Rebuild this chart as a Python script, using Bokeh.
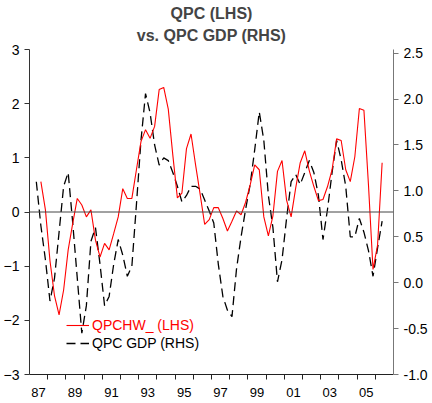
from bokeh.plotting import figure
from bokeh.models import (Range1d, LinearAxis, FixedTicker, CustomJSTickFormatter,
                          NumeralTickFormatter, Span, Legend, LegendItem, Title)
from bokeh.embed import file_html
from bokeh.resources import INLINE

# ---- data (quarterly) ----
qpchw_start = (1987, 3)   # first quarter of QPCHW_ series
qpchw = [0.56, 0.04, -0.9, -1.55, -1.9, -1.44, -0.70, -0.21, 0.25, 0.13,
         -0.09, 0.04, -0.52, -0.83, -0.58, -0.70, -0.40, -0.09, 0.43, 0.25,
         0.25, 0.78, 1.30, 1.52, 1.36, 1.58, 2.26, 2.30, 1.9, 1.05,
         0.26, 0.35, 1.17, 1.44, 0.87, 0.33, -0.23, -0.14, 0.08, 0.08,
         -0.12, -0.35, -0.17, 0.02, -0.05, 0.18, 0.5, 0.87, 0.78, -0.09,
         -0.44, -0.07, 0.75, 0.95, 0.22, -0.09, 0.44, 0.91, 1.13, 0.76,
         0.47, 0.21, 0.23, 0.47, 0.78, 1.35, 1.32, 0.78, 0.56, 1.02,
         1.91, 1.88, 0.5, -1.06, -0.61, 0.91]

gdp_start = (1987, 2)     # first quarter of QPC GDP series
qpc_gdp = [1.10, 0.62, 0.25, -0.2, 0.05, 0.55, 1.05, 1.2, 0.65, 0.05,
           -0.55, -0.25, 0.45, 0.6, 0.2, -0.25, -0.15, 0.2, 0.47, 0.3,
           0.07, 0.18, 0.85, 1.55, 2.06, 1.85, 1.5, 1.28, 1.36, 1.33,
           1.2, 1.05, 0.88, 0.95, 1.05, 1.05, 1.02, 0.9, 0.78, 0.65,
           0.2, -0.15, -0.3, -0.37, 0.15, 0.5, 0.8, 1.07, 1.45, 1.86,
           1.55, 0.95, 0.6, 0.01, 0.25, 0.7, 1.1, 1.18, 1.07, 1.2,
           1.33, 1.2, 0.95, 0.47, 0.8, 1.2, 1.55, 1.34, 1.05, 0.5,
           0.5, 0.7, 0.55, 0.35, 0.07, 0.38, 0.67]

year_ticks = list(range(1988, 2007))
label_years = list(range(1987, 2007, 2))
left_ticks = [-3, -2, -1, 0, 1, 2, 3]
right_ticks = [-1.0, -0.5, 0.0, 0.5, 1.0, 1.5, 2.0, 2.5]


def quarter_positions(start, n):
    yr, q = start
    return [yr + (q - 1 + k) / 4 + 0.125 for k in range(n)]


x_red = quarter_positions(qpchw_start, len(qpchw))
x_gdp = quarter_positions(gdp_start, len(qpc_gdp))

FONT = "Liberation Sans"

p = figure(frame_width=364, frame_height=325,
           x_range=Range1d(1987, 2007), y_range=Range1d(-3, 3),
           output_backend="svg", toolbar_location=None,
           title="QPC (LHS)",
           min_border_left=23, min_border_right=30, min_border_top=49, min_border_bottom=29)
p.extra_y_ranges = {"right": Range1d(-1, 2.54)}
p.xgrid.grid_line_color = None
p.ygrid.grid_line_color = None
p.outline_line_color = None
p.background_fill_color = "white"
p.border_fill_color = "white"

p.title.align = "center"
p.title.text_font = FONT
p.title.text_font_size = "16px"
p.title.text_font_style = "bold"
p.title.standoff = -4
p.title.offset = 0
t2 = Title(text="vs. QPC GDP (RHS)", align="center", text_font=FONT, text_font_size="16px",
           text_font_style="bold", standoff=11)
p.add_layout(t2, "above")

p.add_layout(Span(location=0, dimension="width", line_color="#444444", line_width=1))

r_gdp = p.line(x_gdp, qpc_gdp, y_range_name="right", line_color="black",
               line_width=1.3, line_dash="9 5")
r_red = p.line(x_red, qpchw, line_color="#ff0000", line_width=1.1)

# x axis
xa = p.xaxis[0]
xa.ticker = FixedTicker(ticks=[y + 0.5 for y in label_years], minor_ticks=year_ticks)
xa.formatter = CustomJSTickFormatter(code="return String(Math.floor(tick) % 100).padStart(2, '0');")
xa.major_tick_out = 0
xa.major_tick_in = 0
xa.minor_tick_out = 5
xa.minor_tick_in = 0
xa.minor_tick_line_color = "#222222"
xa.axis_line_color = "#222222"
xa.major_label_standoff = 8
xa.major_label_text_font = FONT
xa.major_label_text_font_size = "13px"
xa.major_label_text_color = "black"

# left axis
ya = p.yaxis[0]
ya.ticker = FixedTicker(ticks=left_ticks)
ya.major_tick_out = 5
ya.major_tick_in = 0
ya.minor_tick_line_color = None
ya.axis_line_color = "#333333"
ya.major_tick_line_color = "#333333"
ya.major_label_standoff = 5
ya.major_label_text_font = FONT
ya.major_label_text_font_size = "14px"
ya.major_label_text_color = "black"

# right axis
ra = LinearAxis(y_range_name="right", ticker=FixedTicker(ticks=right_ticks),
                formatter=NumeralTickFormatter(format="0.0"))
ra.major_tick_out = 5
ra.major_tick_in = 0
ra.minor_tick_line_color = None
ra.axis_line_color = "#777777"
ra.major_tick_line_color = "#777777"
ra.major_label_standoff = 5
ra.major_label_text_font = FONT
ra.major_label_text_font_size = "14px"
ra.major_label_text_color = "black"
p.add_layout(ra, "right")

# legends (two, so each label keeps its own colour)
common = dict(padding=0, margin=0, spacing=0, glyph_width=23, glyph_height=16,
              label_height=16, label_standoff=3, border_line_color=None,
              background_fill_alpha=0, label_text_font=FONT, label_text_font_size="14px")
leg1 = Legend(items=[LegendItem(label="QPCHW_ (LHS)", renderers=[r_red])],
              location=(37, 41), label_text_color="#ff0000", **common)
leg2 = Legend(items=[LegendItem(label="QPC GDP (RHS)", renderers=[r_gdp])],
              location=(37, 23), label_text_color="black", **common)
p.add_layout(leg1)
p.add_layout(leg2)

open("out.html", "w").write(file_html(p, INLINE))
